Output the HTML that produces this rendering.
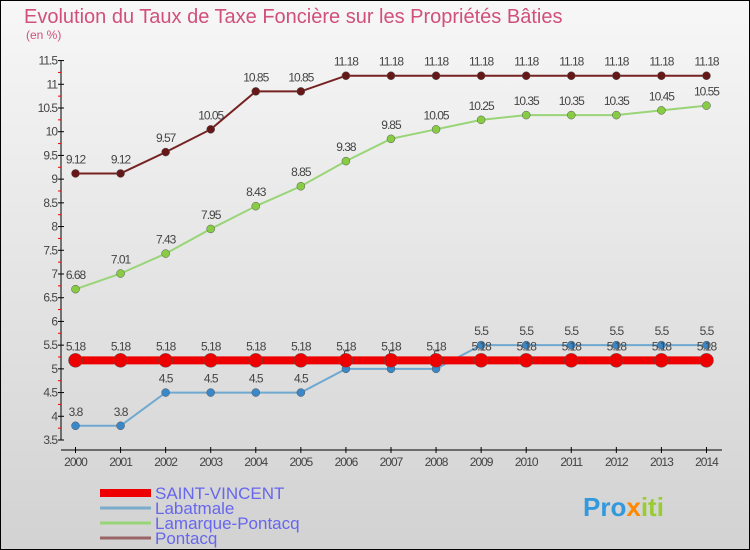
<!DOCTYPE html>
<html><head><meta charset="utf-8"><style>
body{margin:0;}
svg{display:block;font-family:"Liberation Sans","DejaVu Sans",sans-serif;}
</style></head><body>
<svg id="c" width="750" height="550" xmlns="http://www.w3.org/2000/svg">
<defs><linearGradient id="bg" x1="0" y1="0" x2="0" y2="1"><stop offset="0" stop-color="#f7f7f7"/><stop offset="1" stop-color="#d2d2d2"/></linearGradient></defs>
<rect x="0.5" y="0.5" width="749" height="549" fill="url(#bg)" stroke="#000"/>
<text x="24" y="23" font-size="20" fill="#d0507a">Evolution du Taux de Taxe Foncière sur les Propriétés Bâties</text>
<text x="26" y="39" font-size="12" fill="#d0507a">(en %)</text>
<g id="axes"></g><g id="series"></g>
<g>
<line x1="100" y1="493" x2="151" y2="493" stroke="#ee0000" stroke-width="8"/>
<text x="155" y="499" font-size="17" fill="#6666ee">SAINT-VINCENT</text>
<line x1="100" y1="508" x2="151" y2="508" stroke="#7aaccc" stroke-width="3"/>
<text x="155" y="514" font-size="17" fill="#6666ee">Labatmale</text>
<line x1="100" y1="523" x2="151" y2="523" stroke="#99d477" stroke-width="3"/>
<text x="155" y="529" font-size="17" fill="#6666ee">Lamarque-Pontacq</text>
<line x1="100" y1="538" x2="151" y2="538" stroke="#996666" stroke-width="3"/>
<text x="155" y="544" font-size="17" fill="#6666ee">Pontacq</text>
</g>
<text x="583" y="516" font-size="26" font-weight="bold" fill="#3399dd">Pro<tspan fill="#ff8800">x</tspan><tspan fill="#99cc33">iti</tspan></text>
</svg>
<script>
const years=[2000,2001,2002,2003,2004,2005,2006,2007,2008,2009,2010,2011,2012,2013,2014];
const yTicks=[3.5,4,4.5,5,5.5,6,6.5,7,7.5,8,8.5,9,9.5,10,10.5,11,11.5];
const saintVincent=[5.18,5.18,5.18,5.18,5.18,5.18,5.18,5.18,5.18,5.18,5.18,5.18,5.18,5.18,5.18];
const labatmale=[3.8,3.8,4.5,4.5,4.5,4.5,5,5,5,5.5,5.5,5.5,5.5,5.5,5.5];
const lamarque=[6.68,7.01,7.43,7.95,8.43,8.85,9.38,9.85,10.05,10.25,10.35,10.35,10.35,10.45,10.55];
const pontacq=[9.12,9.12,9.57,10.05,10.85,10.85,11.18,11.18,11.18,11.18,11.18,11.18,11.18,11.18,11.18];
const NS="http://www.w3.org/2000/svg";
const X=i=>75.5+i*45.07;
const Y=v=>440-(v-3.5)*47.43;
function mk(t,a,p){const e=document.createElementNS(NS,t);for(const k in a)e.setAttribute(k,a[k]);p.appendChild(e);return e;}
const ax=document.getElementById('axes');
let l=mk('line',{x1:61,y1:Y(11.5),x2:61,y2:Y(3.5),stroke:'#000'},ax);


l=mk('line',{x1:61,y1:450,x2:722,y2:450,stroke:'#000'},ax);


yTicks.forEach((v,i)=>{
 mk('line',{x1:58,x2:64,y1:Y(v),y2:Y(v),stroke:'#000'},ax);
 if(i<yTicks.length-1)mk('line',{x1:58,x2:61,y1:Y(v+0.25),y2:Y(v+0.25),stroke:'#e00'},ax);
 const t=mk('text',{x:57,y:Y(v)+4,'font-size':12,'text-anchor':'end',fill:'#444','letter-spacing':'-1'},ax);
 t.textContent=v;
 
 
});
years.forEach((yr,i)=>{
 mk('line',{x1:X(i),x2:X(i),y1:447,y2:453,stroke:'#000'},ax);
 const t=mk('text',{x:X(i),y:466,'font-size':12,'text-anchor':'middle',fill:'#444','letter-spacing':'-1'},ax);
 t.textContent=yr;
 
 
});
const sg=document.getElementById('series');
function draw(vals,color,w,r,name,fill,lbl){
 const g=mk('g',{},sg);
 
 
 const p=mk('polyline',{points:vals.map((v,i)=>X(i)+','+Y(v)).join(' '),fill:'none',stroke:color,'stroke-width':w},g);
 
 
 vals.forEach((v,i)=>{
  const c=mk('circle',{cx:X(i),cy:Y(v),r:r,fill:fill,stroke:'#555','stroke-width':0.5},g);
  
  
  const t=mk('text',{x:X(i),y:Y(v)-10,'font-size':12,'text-anchor':'middle',fill:lbl,'letter-spacing':'-1'},g);
  t.textContent=v;
  
  
 });
}
draw(labatmale,'#6fa8d0',2,4,'labatmale','#3a88c8','#444');
draw(lamarque,'#99d477',2,4,'lamarque-pontacq','#88cc44','#444');
draw(pontacq,'#772222',2,4,'pontacq','#661818','#444');
draw(saintVincent,'#ee0000',8,7,'saint-vincent','#ee0000','#444');
</script>
</body></html>
